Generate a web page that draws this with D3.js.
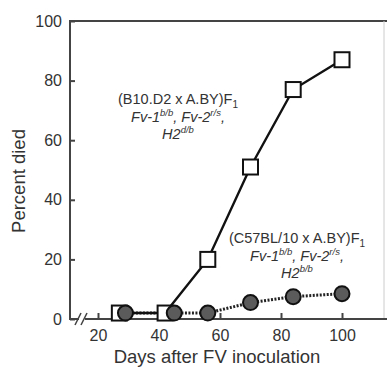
<!DOCTYPE html>
<html>
<head>
<meta charset="utf-8">
<script src="https://cdn.jsdelivr.net/npm/d3@7"></script>
<style>
  body { margin: 0; background: #fff; }
  svg { display: block; }
  text { font-family: "Liberation Sans", Arial, sans-serif; fill: #333; }
</style>
</head>
<body>
<svg width="387" height="367"></svg>
<script>
// data
var squareDays = [27, 42, 56, 70, 84, 100];
var squareDied = [2, 2, 20, 51, 77, 87];
var circleDays = [29, 45, 56, 70, 84, 100];
var circleDied = [2, 2, 2, 5.5, 7.5, 8.5];
var xTicks = [20, 40, 60, 80, 100];
var yTicks = [0, 20, 40, 60, 80, 100];

var svg = d3.select("svg");
var x = d3.scaleLinear().domain([20, 100]).range([98, 342]);
var y = d3.scaleLinear().domain([0, 100]).range([319, 21]);
var left = 70, right = 387;

var squares = squareDays.map(function(d, i) { return [d, squareDied[i]]; });
var circles = circleDays.map(function(d, i) { return [d, circleDied[i]]; });

// frame lines
svg.append("line").attr("x1", left).attr("x2", right).attr("y1", y(100)).attr("y2", y(100))
  .attr("stroke", "#444").attr("stroke-width", 2);
svg.append("line").attr("x1", 384).attr("x2", 384).attr("y1", y(100)).attr("y2", y(0))
  .attr("stroke", "#ccc").attr("stroke-width", 1);
svg.append("line").attr("x1", left).attr("x2", left).attr("y1", y(100) - 1).attr("y2", y(0) + 1)
  .attr("stroke", "#444").attr("stroke-width", 2);
// bottom axis with break
svg.append("line").attr("x1", left).attr("x2", 79).attr("y1", y(0)).attr("y2", y(0))
  .attr("stroke", "#444").attr("stroke-width", 2);
svg.append("line").attr("x1", 85).attr("x2", right).attr("y1", y(0)).attr("y2", y(0))
  .attr("stroke", "#444").attr("stroke-width", 2);
[78, 84].forEach(function(bx) {
  svg.append("line").attr("x1", bx - 3).attr("x2", bx + 3).attr("y1", y(0) + 6).attr("y2", y(0) - 6)
    .attr("stroke", "#444").attr("stroke-width", 1.6);
});

// axes
var xAxis = svg.append("g").attr("transform", "translate(0," + y(0) + ")")
  .call(d3.axisBottom(x).tickValues(xTicks).tickSizeInner(-6).tickSizeOuter(0).tickPadding(11));
xAxis.select(".domain").remove();
xAxis.selectAll("line").attr("stroke", "#444").attr("stroke-width", 2);
xAxis.selectAll("text").attr("font-size", 16).attr("fill", "#333");

var yAxis = svg.append("g").attr("transform", "translate(" + left + ",0)")
  .call(d3.axisLeft(y).tickValues(yTicks).tickSizeInner(-5).tickSizeOuter(0).tickPadding(8));
yAxis.select(".domain").remove();
yAxis.selectAll("line").attr("stroke", "#444").attr("stroke-width", 2);
yAxis.selectAll("text").attr("font-size", 16).attr("fill", "#333");

svg.append("text").attr("x", 217).attr("y", 363).attr("text-anchor", "middle")
  .attr("font-size", 18.5).text("Days after FV inoculation");
svg.append("text").attr("transform", "translate(25,181) rotate(-90)").attr("text-anchor", "middle")
  .attr("font-size", 18.5).text("Percent died");

var line = d3.line().x(function(d) { return x(d[0]); }).y(function(d) { return y(d[1]); });

// circle series (dotted)
svg.append("path").datum(circles).attr("d", line).attr("fill", "none")
  .attr("stroke", "#222").attr("stroke-width", 3).attr("stroke-dasharray", "2,1.5");
// square series
svg.append("path").datum(squares).attr("d", line).attr("fill", "none")
  .attr("stroke", "#111").attr("stroke-width", 2.4);

svg.selectAll(".sq").data(squares).enter().append("rect")
  .attr("class", "sq")
  .attr("x", function(d) { return x(d[0]) - 7.5; })
  .attr("y", function(d) { return y(d[1]) - 7.5; })
  .attr("width", 15).attr("height", 15)
  .attr("fill", "#fff").attr("stroke", "#111").attr("stroke-width", 2);

svg.selectAll(".dot").data(circles).enter().append("circle")
  .attr("class", "dot")
  .attr("cx", function(d) { return x(d[0]); })
  .attr("cy", function(d) { return y(d[1]); })
  .attr("r", 7.5)
  .attr("fill", "#5b5b5b").attr("stroke", "#111").attr("stroke-width", 2);

// annotations
function label(cx, cy, cross, alleles, h2) {
  var t = svg.append("text").attr("x", cx).attr("y", cy).attr("text-anchor", "middle").attr("font-size", 14.5);
  t.append("tspan").text(cross);
  t.append("tspan").attr("font-size", 10).attr("dy", 4).text("1");
  var t2 = svg.append("text").attr("x", cx).attr("y", cy + 18).attr("text-anchor", "middle")
    .attr("font-size", 14.5).attr("font-style", "italic");
  t2.append("tspan").text("Fv-1");
  t2.append("tspan").attr("font-size", 9.5).attr("dy", -6).text(alleles[0]);
  t2.append("tspan").attr("dy", 6).text(", Fv-2");
  t2.append("tspan").attr("font-size", 9.5).attr("dy", -6).text(alleles[1]);
  t2.append("tspan").attr("dy", 6).text(",");
  var t3 = svg.append("text").attr("x", cx).attr("y", cy + 35).attr("text-anchor", "middle")
    .attr("font-size", 14.5).attr("font-style", "italic");
  t3.append("tspan").text("H2");
  t3.append("tspan").attr("font-size", 9.5).attr("dy", -6).text(h2);
}
label(178, 104, "(B10.D2 x A.BY)F", ["b/b", "r/s"], "d/b");
label(297, 243, "(C57BL/10 x A.BY)F", ["b/b", "r/s"], "b/b");
</script>
</body>
</html>
